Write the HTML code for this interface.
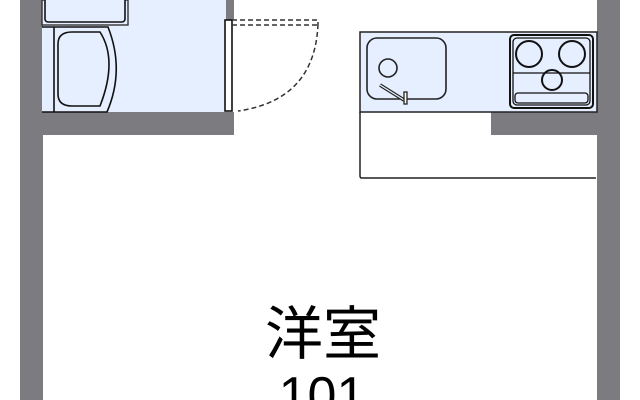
<!DOCTYPE html>
<html><head><meta charset="utf-8"><style>
html,body{margin:0;padding:0;background:#fff;width:640px;height:400px;overflow:hidden}
svg{display:block}
</style></head><body>
<svg width="640" height="400" viewBox="0 0 640 400" xmlns="http://www.w3.org/2000/svg">
<rect width="640" height="400" fill="#fff"/>
<rect x="42" y="0" width="184" height="112" fill="#e6efff"/>
<rect x="20" y="0" width="23" height="400" fill="#7c7c80"/>
<rect x="20" y="112" width="214" height="23" fill="#7c7c80"/>
<rect x="226" y="0" width="8" height="20" fill="#7c7c80"/>
<rect x="597" y="0" width="23" height="400" fill="#7c7c80"/>
<rect x="491" y="112" width="106" height="23" fill="#7c7c80"/>
<rect x="42" y="0" width="86" height="25" fill="#e6efff" stroke="#333" stroke-width="1.4"/>
<rect x="45" y="-4" width="80" height="26" rx="3" fill="#e6efff" stroke="#111" stroke-width="1.6"/>
<path d="M42 27 H108 Q125 70 107 112 H42" fill="#e6efff" stroke="#111" stroke-width="1.6"/>
<line x1="54" y1="27" x2="54" y2="112" stroke="#111" stroke-width="1.6"/>
<path d="M58 44 Q58 32 72 32 H100 Q118 60 100 106 H72 Q58 106 58 94 Z" fill="none" stroke="#111" stroke-width="1.6"/>
<rect x="225" y="20" width="7" height="91" fill="#fff" stroke="#111" stroke-width="1.6"/>
<path d="M232 20 H318 V24 M232 25 H318" fill="none" stroke="#333" stroke-width="1.5" stroke-dasharray="5,3"/>
<path d="M318 24 Q315 100 238 111" fill="none" stroke="#333" stroke-width="1.5" stroke-dasharray="5,3"/>
<path d="M360 112 V176 Q360 178 362 178 H596" fill="#fff" stroke="#222" stroke-width="1.5"/>
<rect x="360" y="32" width="237" height="80" fill="#e6efff" stroke="#222" stroke-width="1.5"/>
<rect x="367" y="38" width="79" height="61" rx="10" fill="none" stroke="#222" stroke-width="1.6"/>
<circle cx="388" cy="68" r="9" fill="none" stroke="#222" stroke-width="1.6"/>
<line x1="380" y1="85" x2="404" y2="100" stroke="#222" stroke-width="3.5"/>
<line x1="380" y1="85" x2="404" y2="100" stroke="#e6efff" stroke-width="1.2"/>
<rect x="404" y="92" width="3" height="12" fill="#fff" stroke="#222" stroke-width="1.3"/>
<rect x="510" y="35" width="83" height="73" rx="4" fill="none" stroke="#111" stroke-width="2"/>
<rect x="513" y="38" width="77" height="67" rx="4" fill="none" stroke="#111" stroke-width="1.3"/>
<line x1="513" y1="73" x2="590" y2="73" stroke="#111" stroke-width="1.3"/>
<circle cx="529" cy="54" r="13" fill="none" stroke="#111" stroke-width="2"/>
<circle cx="572" cy="54" r="13" fill="none" stroke="#111" stroke-width="2"/>
<circle cx="552" cy="80" r="10" fill="none" stroke="#111" stroke-width="2"/>
<rect x="515" y="93" width="73" height="10" rx="3" fill="none" stroke="#111" stroke-width="1.3"/>
<text x="323" y="354" font-size="58" text-anchor="middle" font-family="'Liberation Sans','Noto Sans CJK JP',sans-serif" fill="#000">洋室</text>
<text x="322" y="413" font-size="52" text-anchor="middle" font-family="'Liberation Sans','Noto Sans CJK JP',sans-serif" fill="#000">101</text>
</svg>
</body></html>
